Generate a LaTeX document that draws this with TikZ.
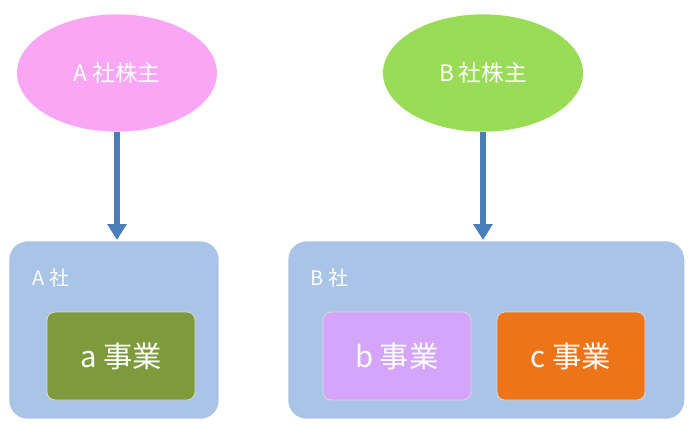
\documentclass[tikz,border=0pt]{standalone}
\usepackage{fontspec}
\newfontfamily\jp{Noto Sans CJK JP}
\usetikzlibrary{shapes.geometric,arrows.meta}
\definecolor{pinkA}{HTML}{F9A6F4}
\definecolor{greenB}{HTML}{9ADB58}
\definecolor{boxblue}{HTML}{A9C4E6}
\definecolor{olive}{HTML}{7D9A3C}
\definecolor{lav}{HTML}{D5A4FB}
\definecolor{orng}{HTML}{EE7418}
\definecolor{arrblue}{HTML}{4A7EBB}
\tikzset{
  holder/.style={ellipse, minimum width=150pt, minimum height=88pt, text=white, font=\jp\fontsize{17}{20}\selectfont},
  company/.style={rectangle, rounded corners=14pt, draw=white, line width=1pt, fill=boxblue, anchor=north west},
  business/.style={rectangle, rounded corners=6pt, draw=white!85!black, line width=0.6pt, minimum width=111pt, minimum height=66pt, text=white, font=\jp\fontsize{22}{26}\selectfont},
  own/.style={draw=arrblue, line width=4pt, -{Triangle[length=12pt,width=14pt]}},
  clabel/.style={text=white, font=\jp\fontsize{15}{18}\selectfont, anchor=west}
}
\begin{document}
\begin{tikzpicture}[x=0.75pt,y=-0.75pt]
\useasboundingbox (0,0) rectangle (691,429);
% shareholders
\node (hA) [holder, fill=pinkA] at (117,73) {A 社株主};
\node (hB) [holder, fill=greenB] at (483,73) {B 社株主};
% companies
\node (cA) [company, minimum width=158pt, minimum height=134pt] at (8,240) {};
\node (cB) [company, minimum width=298pt, minimum height=134pt] at (287,240) {};
\node (lA) [clabel] at (28,278) {A 社};
\node (lB) [clabel] at (306,278) {B 社};
% businesses
\node (ba) [business, fill=olive] at (121,356) {a 事業};
\node (bb) [business, fill=lav] at (397,356) {b 事業};
\node (bc) [business, fill=orng] at (571,356) {c 事業};
\draw [own] (hA) -- (cA.north -| hA);
\draw [own] (hB) -- (cB.north -| hB);
\end{tikzpicture}
\end{document}
